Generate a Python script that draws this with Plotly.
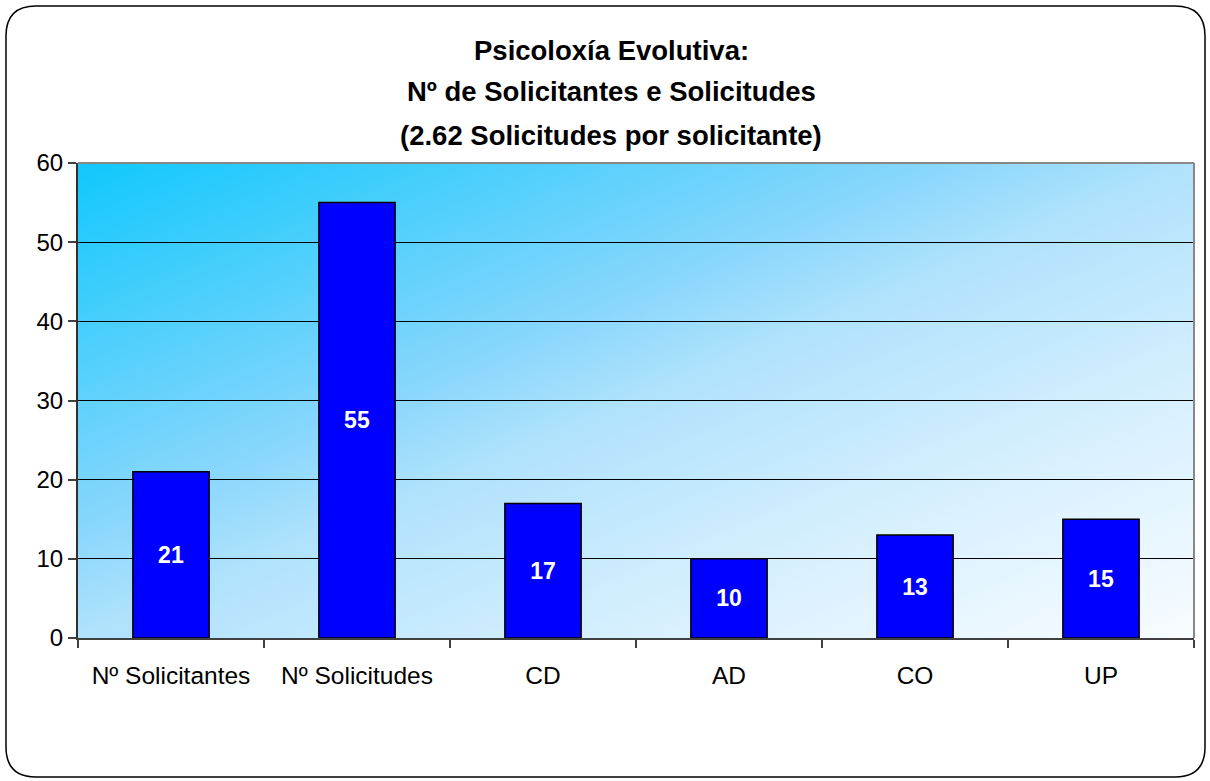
import base64
import plotly.graph_objects as go

categories = ["Nº Solicitantes", "Nº Solicitudes", "CD", "AD", "CO", "UP"]
values = [21, 55, 17, 10, 13, 15]
title_lines = ["Psicoloxía Evolutiva:", "Nº de Solicitantes e Solicitudes",
               "(2.62 Solicitudes por solicitante)"]
y_ticks = [0, 10, 20, 30, 40, 50, 60]

W, H = 1210, 781
L, R, T, B = 78, 1194, 163, 638
FONT = "Liberation Sans, Arial, sans-serif"


def px(x):
    return (x - L) / (R - L)


def py(y):
    return (B - y) / (B - T)


svg = ('<svg xmlns="http://www.w3.org/2000/svg" width="1116" height="475" '
       'preserveAspectRatio="none" viewBox="0 0 1 1">'
       '<defs><linearGradient id="g" x1="0" y1="0" x2="1" y2="1">'
       '<stop offset="0" stop-color="#10c8fc"/>'
       '<stop offset="0.38" stop-color="#86d6fc"/>'
       '<stop offset="0.5" stop-color="#b0e2fc"/>'
       '<stop offset="0.75" stop-color="#d8f0fe"/>'
       '<stop offset="1" stop-color="#f8fcff"/>'
       '</linearGradient></defs>'
       '<rect x="0" y="0" width="1" height="1" fill="url(#g)"/></svg>')
src = "data:image/svg+xml;base64," + base64.b64encode(svg.encode()).decode()

fig = go.Figure()
fig.add_trace(go.Bar(
    x=categories, y=values,
    marker=dict(color="#0000ff", line=dict(color="#000000", width=1.5)),
    texttemplate="%{y}", textposition="inside", insidetextanchor="middle",
    textangle=0,
    textfont=dict(family=FONT, size=23, color="white", weight="bold"),
    hoverinfo="skip",
))

# rounded outer border
x0, x1, y0, y1, r = 6, 1205, 6, 777, 30
def P(x, y):
    return f"{px(x):.5f},{py(y):.5f}"
path = (f"M {P(x0 + r, y0)} L {P(x1 - r, y0)} Q {P(x1, y0)} {P(x1, y0 + r)} "
        f"L {P(x1, y1 - r)} Q {P(x1, y1)} {P(x1 - r, y1)} "
        f"L {P(x0 + r, y1)} Q {P(x0, y1)} {P(x0, y1 - r)} "
        f"L {P(x0, y0 + r)} Q {P(x0, y0)} {P(x0 + r, y0)} Z")

shapes = [
    dict(type="path", path=path, xref="paper", yref="paper",
         line=dict(color="#000000", width=1.5), layer="below"),
    dict(type="line", xref="paper", yref="paper", x0=0, x1=1, y0=1, y1=1,
         line=dict(color="#888888", width=2), layer="above"),
    dict(type="line", xref="paper", yref="paper", x0=1, x1=1, y0=0, y1=1,
         line=dict(color="#888888", width=2), layer="above"),
]

title_y = [50, 92, 135]
annotations = [
    dict(text=t, xref="paper", yref="paper", x=px(611), y=py(yy),
         xanchor="center", yanchor="middle", showarrow=False,
         font=dict(family=FONT, size=27.5, color="black", weight="bold"))
    for t, yy in zip(title_lines, title_y)
]

fig.update_layout(
    width=W, height=H,
    margin=dict(l=L, r=W - R, t=T, b=H - B, pad=0),
    paper_bgcolor="white",
    plot_bgcolor="rgba(0,0,0,0)",
    showlegend=False,
    bargap=0.59,
    shapes=shapes,
    annotations=annotations,
    images=[dict(source=src, xref="paper", yref="paper", x=0, y=1,
                 sizex=1, sizey=1, xanchor="left", yanchor="top",
                 sizing="stretch", layer="below")],
    font=dict(family=FONT, color="black"),
)
fig.update_xaxes(
    type="category", tickson="boundaries", ticks="outside", ticklen=8,
    tickwidth=1.5, tickcolor="#404040",
    showline=True, linecolor="#404040", linewidth=2,
    showgrid=False, tickfont=dict(family=FONT, size=24.5, color="black"),
    ticklabelstandoff=15,
)
fig.update_yaxes(
    range=[0, 60], tickvals=y_ticks, ticks="outside", ticklen=8,
    tickwidth=1.5, tickcolor="#404040",
    showline=True, linecolor="#303030", linewidth=2,
    showgrid=True, gridcolor="#000000", gridwidth=1, zeroline=False,
    tickfont=dict(family=FONT, size=24, color="black"),
)

fig.write_html("out.html", config={"displayModeBar": False},
               post_script="document.body.style.margin='0';")
